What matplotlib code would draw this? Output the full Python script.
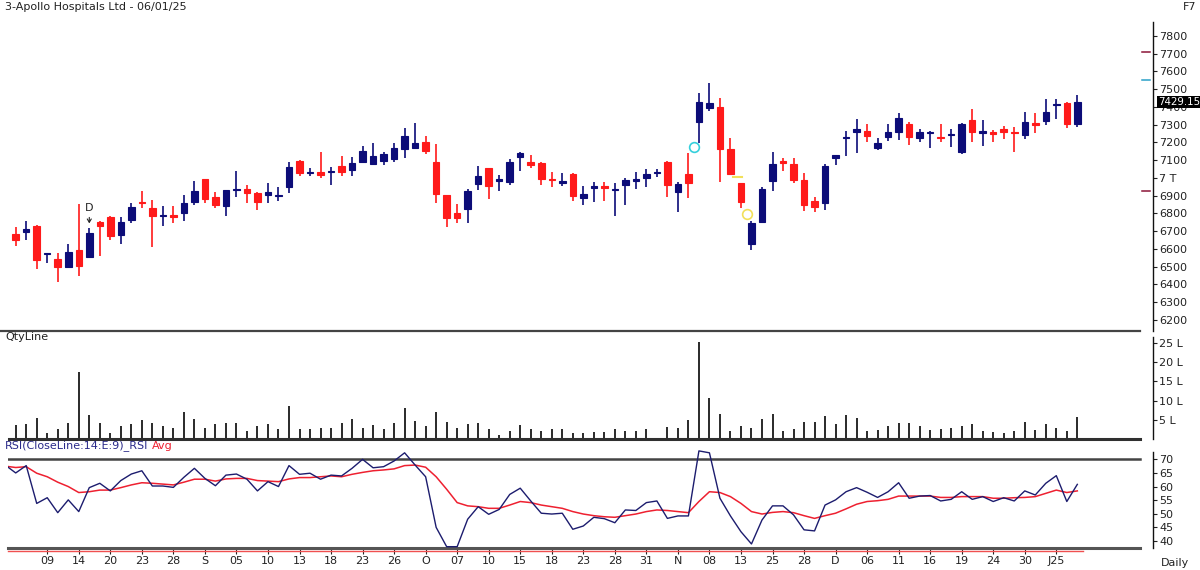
import numpy as np
import matplotlib
matplotlib.use("Agg")
import matplotlib.pyplot as plt
from matplotlib.transforms import blended_transform_factory as btf

# ---------------- data ----------------
opens = [6683, 6696, 6731, 6572, 6542, 6500, 6594, 6557, 6754, 6780,
         6679, 6763, 6867, 6829, 6786, 6790, 6801, 6867, 6992, 6891,
         6842, 6932, 6936, 6914, 6904, 6899, 6949, 7098, 7028, 7034,
         7032, 7067, 7045, 7092, 7079, 7096, 7107, 7161, 7167, 7205,
         7092, 6904, 6801, 6823, 6964, 7054, 6985, 6979, 7120, 7092,
         7086, 6994, 6970, 7022, 6885, 6941, 6954, 6932, 6960, 6985,
         7001, 7026, 7092, 6923, 7022, 7317, 7396, 7401, 7161, 6970,
         6628, 6754, 6983, 7097, 7077, 6988, 6870, 6861, 7110, 7223,
         7261, 7265, 7167, 7233, 7257, 7302, 7227, 7255, 7231, 7240,
         7148, 7327, 7252, 7261, 7274, 7261, 7242, 7308, 7323, 7411,
         7424, 7302]
highs = [6722, 6758, 6735, 6580, 6576, 6628, 6852, 6716, 6756, 6786,
         6782, 6857, 6929, 6876, 6844, 6844, 6904, 6985, 6995, 6919,
         6935, 7041, 6960, 6919, 6974, 6951, 7090, 7100, 7054, 7148,
         7060, 7124, 7116, 7180, 7195, 7148, 7195, 7280, 7312, 7237,
         7191, 6906, 6853, 6936, 7067, 7056, 7017, 7105, 7145, 7129,
         7092, 7036, 7026, 7030, 6954, 6979, 6979, 6969, 6998, 7031,
         7048, 7048, 7095, 6979, 7138, 7477, 7537, 7448, 7227, 6973,
         6759, 6947, 7144, 7110, 7110, 7026, 6891, 7078, 7130, 7264,
         7330, 7304, 7223, 7304, 7364, 7317, 7274, 7263, 7304, 7274,
         7312, 7387, 7327, 7270, 7295, 7289, 7374, 7364, 7443, 7443,
         7430, 7467]
lows = [6617, 6651, 6487, 6519, 6412, 6497, 6448, 6553, 6562, 6651,
        6626, 6748, 6829, 6609, 6729, 6744, 6760, 6848, 6861, 6833,
        6788, 6895, 6857, 6820, 6857, 6870, 6914, 7011, 7011, 6998,
        6960, 7011, 7011, 7083, 7073, 7073, 7092, 7111, 7161, 7135,
        6857, 6726, 6744, 6744, 6932, 6882, 6929, 6960, 7039, 7054,
        6960, 6947, 6955, 6872, 6847, 6866, 6872, 6787, 6847, 6936,
        6951, 7003, 6891, 6810, 6885, 7195, 7379, 6979, 7016, 6829,
        6594, 6748, 6928, 7041, 6969, 6815, 6810, 6819, 7073, 7123,
        7143, 7205, 7158, 7210, 7214, 7186, 7201, 7167, 7201, 7176,
        7135, 7205, 7182, 7201, 7220, 7148, 7220, 7252, 7298, 7330,
        7280, 7289]
closes = [6651, 6713, 6538, 6579, 6497, 6581, 6506, 6688, 6731, 6675,
          6754, 6835, 6857, 6786, 6791, 6782, 6861, 6929, 6880, 6846,
          6932, 6938, 6914, 6863, 6923, 6904, 7062, 7026, 7036, 7015,
          7039, 7032, 7083, 7154, 7124, 7135, 7167, 7237, 7199, 7154,
          6910, 6776, 6776, 6927, 7011, 6957, 6992, 7092, 7143, 7073,
          6992, 6987, 6985, 6898, 6909, 6956, 6945, 6938, 6988, 6992,
          7022, 7035, 6960, 6966, 6973, 7426, 7420, 7161, 7022, 6862,
          6744, 6938, 7077, 7082, 6988, 6847, 6834, 7069, 7129, 7232,
          7274, 7236, 7195, 7257, 7340, 7233, 7261, 7261, 7223, 7246,
          7302, 7257, 7265, 7246, 7261, 7252, 7314, 7298, 7370, 7419,
          7304, 7429.15]

volume_lakh = [3.6, 3.8, 5.5, 1.5, 2.7, 4.2, 17.3, 6.3, 4.2, 1.6,
               3.3, 3.9, 5.0, 4.2, 3.3, 2.8, 6.9, 5.2, 2.8, 4.0,
               4.2, 4.2, 2.1, 3.3, 3.8, 2.7, 8.7, 2.7, 2.7, 2.8,
               2.8, 4.2, 5.2, 2.8, 3.6, 2.7, 4.2, 8.0, 4.7, 3.4,
               6.9, 4.5, 2.8, 3.8, 4.2, 2.7, 1.0, 2.0, 3.6, 2.7,
               2.1, 2.7, 2.7, 1.5, 1.5, 1.9, 1.9, 2.6, 2.1, 2.1,
               2.6, 0.2, 3.2, 2.8, 5.0, 25.1, 10.6, 6.6, 2.1, 3.3,
               2.8, 5.2, 6.5, 2.1, 2.7, 4.5, 4.5, 6.1, 3.8, 6.3,
               5.5, 2.1, 2.4, 3.5, 4.1, 4.1, 3.4, 2.4, 2.7, 2.8,
               3.3, 3.8, 2.1, 1.7, 1.5, 2.1, 4.5, 2.4, 3.8, 2.8,
               2.1, 5.7]

# RSI values start one session before the first visible candle
rsi = [67.9, 65.0, 67.7, 53.8, 55.9, 50.4, 55.1, 50.8, 59.6, 61.2, 58.4,
       62.2, 64.6, 65.8, 60.2, 60.2, 59.7, 63.4, 66.7, 63.0, 60.3,
       64.2, 64.6, 62.7, 58.4, 61.8, 60.0, 67.7, 64.5, 64.9, 62.7,
       64.2, 63.9, 66.7, 70.0, 66.9, 67.3, 69.4, 72.4, 67.9, 63.6,
       45.0, 37.9, 37.9, 48.0, 52.6, 49.8, 51.6, 57.1, 59.4, 54.7,
       50.2, 49.9, 50.2, 44.3, 45.5, 48.7, 48.2, 46.7, 51.4, 51.2,
       54.1, 54.7, 48.3, 49.2, 49.2, 73.1, 72.4, 55.7, 49.2, 43.4,
       38.9, 47.7, 52.9, 52.9, 49.6, 44.1, 43.7, 53.2, 55.1, 58.1,
       59.6, 57.9, 56.0, 58.1, 61.4, 55.7, 56.5, 56.7, 54.7, 55.3,
       58.1, 55.3, 56.3, 54.5, 55.9, 54.7, 58.4, 56.9, 61.2, 64.0,
       54.5, 60.8]
rsi_avg = [67.5, 67.0, 67.3, 64.9, 63.6, 61.6, 60.0, 57.8, 58.1, 58.7, 58.7,
           59.6, 60.6, 61.4, 61.2, 60.9, 60.6, 61.6, 62.7, 62.7, 62.0,
           62.8, 63.0, 63.0, 62.2, 62.0, 61.8, 62.8, 63.3, 63.3, 63.6,
           63.9, 63.6, 64.5, 65.2, 65.8, 66.1, 66.5, 67.7, 67.9, 67.1,
           63.6, 59.0, 54.1, 52.9, 52.6, 52.0, 52.0, 53.2, 54.5, 54.1,
           53.2, 52.6, 52.0, 50.8, 49.9, 49.3, 48.9, 48.7, 49.3, 49.9,
           50.8, 51.4, 51.2, 50.8, 50.4, 54.5, 58.1, 57.8, 56.3, 53.8,
           50.8, 49.9, 50.5, 50.8, 50.4, 49.3, 48.3, 49.3, 50.2, 51.8,
           53.5, 54.5, 54.8, 55.3, 56.5, 56.5, 56.5, 56.5, 56.0, 56.0,
           56.3, 56.3, 56.3, 55.7, 55.7, 55.9, 56.0, 56.3, 57.5, 58.7,
           57.8, 58.4]

date_labels = ["09", "14", "20", "23", "28", "S", "05", "10", "13", "18", "23",
               "26", "O", "07", "10", "15", "18", "23", "28", "31", "N", "08",
               "13", "25", "28", "D", "06", "11", "16", "19", "24", "30", "J25"]
label_first_index = 3
label_step = 3

price_ticks = list(range(6200, 7900, 100))
volume_ticks = [5, 10, 15, 20, 25]
rsi_ticks = [40, 45, 50, 55, 60, 65, 70]

# signal markers
signal_x = [64.55, 69.6]
signal_y = [7175, 6797]
signal_colors = ["#35d0dc", "#f2e05a"]
dash_x = [68.2, 69.1]
dash_y = [7006, 7006]
level_marks = [7711, 7553, 6928]
level_colors = ["#8b1538", "#2aa0c8", "#8b1538"]
d_index = 7

# ---------------- figure ----------------
W, H = 1200, 570
fig = plt.figure(figsize=(W / 100, H / 100), dpi=100)
plt.rcParams['font.family'] = ['DejaVu Sans']

def box(x0, y0, x1, y1):
    return [x0 / W, 1 - y1 / H, (x1 - x0) / W, (y1 - y0) / H]

up_col = "#0c0c78"
dn_col = "#ff1a1a"
txt_col = "#222222"
XL = (-0.733, 108.2)
line_end = (1140 - 8) / (1153 - 8)

ax_p = fig.add_axes(box(8, 15, 1153, 331))
ax_v = fig.add_axes(box(8, 337, 1153, 439))
ax_r = fig.add_axes(box(8, 449, 1153, 547.5))

for ax in (ax_p, ax_v, ax_r):
    ax.set_xlim(*XL)
    for s in ("top", "left", "bottom"):
        ax.spines[s].set_visible(False)
    ax.spines["right"].set_linewidth(1.0)
    ax.spines["right"].set_color("#111111")
    ax.yaxis.tick_right()
    ax.tick_params(axis="y", direction="out", length=3, width=0.8, pad=1.5,
                   labelsize=8, colors=txt_col)
    ax.set_facecolor("none")

# ----- price panel -----
n = len(closes)
x = np.arange(n)
o = np.array(opens, float); c = np.array(closes, float)
hi = np.array(highs, float); lo = np.array(lows, float)
cols = [up_col if cc >= oo else dn_col for oo, cc in zip(o, c)]
ax_p.vlines(x, lo, hi, colors=cols, linewidth=1.2, zorder=2)
ax_p.bar(x, np.abs(c - o), bottom=np.minimum(o, c), width=0.62, color=cols,
         edgecolor=cols, linewidth=0.8, zorder=3)
ax_p.set_ylim(6138, 7918)
ax_p.spines["right"].set_bounds(6138, 7879)
ax_p.set_yticks(price_ticks)
ax_p.set_yticklabels(["7 T" if t == 7000 else str(t) for t in price_ticks])
ax_p.set_xticks([])

for sx, sy, sc in zip(signal_x, signal_y, signal_colors):
    ax_p.plot(sx, sy, marker="o", ms=7, mfc="none", mec=sc, mew=1.2, zorder=4)
ax_p.plot(dash_x, dash_y, color=signal_colors[1], lw=1.5, zorder=4)

ax_p.annotate("D", xy=(d_index, highs[d_index]), xytext=(0, 14.5),
              textcoords="offset points", ha="center", va="center",
              fontsize=8, color=txt_col,
              arrowprops=dict(arrowstyle="->,head_length=0.3,head_width=0.18",
                              color=txt_col, lw=0.8, shrinkA=1, shrinkB=3.6))

tb = btf(ax_p.transAxes, ax_p.transData)
for lv, lc in zip(level_marks, level_colors):
    ax_p.plot([0.990, 0.997], [lv, lv], color=lc, lw=1.1, transform=tb,
              clip_on=False)
ax_p.text(1.0042, closes[-1], f"{closes[-1]:.2f}", transform=tb, color="white",
          fontsize=7.4, va="center", ha="left", zorder=10, clip_on=False,
          bbox=dict(boxstyle="square,pad=0.1", fc="black", ec="none"))

# ----- volume panel -----
ax_v.vlines(x, 0, volume_lakh, colors="#2a2a2a", linewidth=1.4)
ax_v.set_ylim(0, 26.5)
ax_v.set_yticks(volume_ticks)
ax_v.set_yticklabels([f"{t} L" for t in volume_ticks])
ax_v.set_xticks([])
ax_v.axhline(0, xmin=0.001, xmax=line_end, color="#303030", lw=2.2, clip_on=False)

# ----- RSI panel -----
xr = np.arange(-1, n)
ax_r.plot(xr, rsi_avg, color="#ee2030", lw=1.1, zorder=3)
ax_r.plot(xr, rsi, color="#1c1c6e", lw=1.0, zorder=4)
ax_r.set_ylim(37.6, 73.8)
ax_r.spines["right"].set_bounds(37.6, 72.6)
ax_r.set_yticks(rsi_ticks)
ax_r.axhline(70, xmax=line_end, color="#444444", lw=1.8, zorder=2)
ax_r.axhline(37.6, xmax=line_end, color="#555555", lw=2.2, zorder=2, clip_on=False)
tr = btf(ax_r.transData, ax_r.transAxes)
ax_r.plot([XL[0], n - 0.45], [-0.036, -0.036], color="#f05050", lw=1.0,
          transform=tr, clip_on=False)
tick_pos = [label_first_index + label_step * k for k in range(len(date_labels))]
ax_r.set_xticks(tick_pos)
ax_r.set_xticklabels(date_labels)
ax_r.tick_params(axis="x", direction="out", length=4, width=0.8, pad=2,
                 labelsize=8, colors=txt_col)
for t in ax_r.xaxis.get_ticklines():
    t.set_color("#d04040")

# ----- texts -----
fig.text(5 / W, 1 - 7 / H, "3-Apollo Hospitals Ltd - 06/01/25", fontsize=8,
         color=txt_col, va="center", ha="left")
fig.text(1183 / W, 1 - 7 / H, "F7", fontsize=8, color=txt_col, va="center", ha="left")
fig.text(5 / W, 1 - 337 / H, "QtyLine", fontsize=8, color=txt_col, va="center", ha="left")
t1 = fig.text(5 / W, 1 - 446 / H, "RSI(CloseLine:14:E:9)_RSI", fontsize=8,
              color="#2a2a8a", va="center", ha="left")
fig.text(1161 / W, 1 - 563 / H, "Daily", fontsize=8, color=txt_col, va="center", ha="left")

# separator under price panel
fig.add_artist(plt.Line2D([0, 1140 / W], [1 - 331 / H, 1 - 331 / H],
                          color="#444444", lw=1.6))

fig.canvas.draw()
bb = t1.get_window_extent()
fig.text((bb.x1 + 4) / W, 1 - 446 / H, "Avg", fontsize=8, color="#ee2030",
         va="center", ha="left")

fig.savefig("out.png", dpi=100, facecolor="white")
